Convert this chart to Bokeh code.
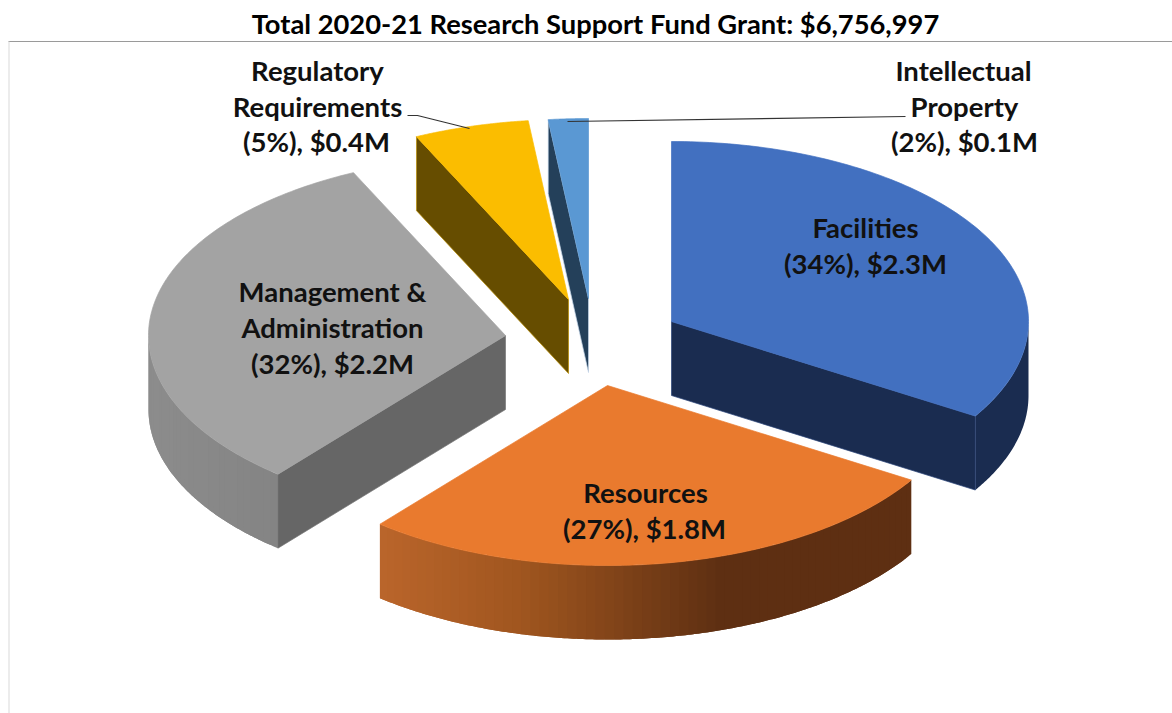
import numpy as np
from bokeh.plotting import figure
from bokeh.models import Range1d
from bokeh.core.properties import value
from bokeh.embed import file_html
from bokeh.resources import INLINE

# ---- data ----
title_text = "Total 2020-21 Research Support Fund Grant: $6,756,997"
categories = ["Facilities", "Resources", "Management & Administration", "Regulatory Requirements", "Intellectual Property"]
shares = [33.8, 27.2, 32.0, 5.2, 1.8]
pct_labels = ["34%", "27%", "32%", "5%", "2%"]
dollar_labels = ["$2.3M", "$1.8M", "$2.2M", "$0.4M", "$0.1M"]

# ---- styling and layout ----
top_colors = ["#4270c0", "#e97a2e", "#a3a3a3", "#fbbd00", "#5a98d3"]
face_colors = ["#1a2c50", "#5e2f12", "#666666", "#664d00", "#24405a"]
edge_colors = ["#2a4478", "#5e2f12", "#777777", "#b88c00", "#c4d6e8"]
wall_stops = [
    [(0, "#1a2c50"), (1, "#1a2c50")],
    [(380, "#ba652b"), (520, "#a0561f"), (720, "#5e2f12"), (910, "#5e2f12")],
    [(150, "#8c8c8c"), (276, "#848484")],
    [(0, "#664d00"), (1, "#664d00")],
    [(0, "#24405a"), (1, "#24405a")],
]
apex_x = [671, 607, 505, 568, 588]
apex_y = [321, 385, 335, 299, 298]
cut_edge = ["end", None, "start", "start", "start"]
RX, RY, DEPTH = 357, 180, 74
draw_order = [4, 3, 0, 2, 1]


def hex_rgb(c):
    return np.array([int(c[i:i + 2], 16) for i in (1, 3, 5)], float)


def grad(stops, x):
    xs = [s[0] for s in stops]
    cols = np.array([hex_rgb(s[1]) for s in stops])
    rgb = [np.interp(x, xs, cols[:, k]) for k in range(3)]
    return "#%02x%02x%02x" % tuple(int(round(v)) for v in rgb)


def rim(i, t):
    a = np.radians(t)
    return apex_x[i] + RX * np.sin(a), apex_y[i] - RY * np.cos(a)


def wall_patch(i, ta, tb, color):
    ts = np.linspace(ta, tb, max(2, int((tb - ta) * 2) + 1))
    xs, ys = rim(i, ts)
    p.patch(np.r_[xs, xs[::-1]], np.r_[ys, ys[::-1] + DEPTH],
            fill_color=color, line_color=None)


p = figure(width=1172, height=713, output_backend="svg", toolbar_location=None,
           x_range=Range1d(0, 1172), y_range=Range1d(713, 0),
           min_border=0, outline_line_color=None)
p.xaxis.visible = False
p.yaxis.visible = False
p.grid.visible = False
p.background_fill_color = "white"

# frame rules under the title and down the left side
p.line([8, 1172], [41, 41], line_color="#9a9a9a", line_width=1.2)
p.line([8.5, 8.5], [41, 713], line_color="#d9d9d9", line_width=1)

ends = np.cumsum(shares) / np.sum(shares) * 360
starts = np.concatenate([[0], ends[:-1]])

for i in draw_order:
    t0, t1 = starts[i], ends[i]
    # outer wall: overlapping strips, so that it can carry a gradient without seams
    w0, w1 = max(t0, 90), min(t1, 270)
    if w1 > w0:
        if wall_stops[i][0][1] == wall_stops[i][-1][1]:
            wall_patch(i, w0, w1, wall_stops[i][0][1])
        else:
            n = max(2, int((w1 - w0) / 1.5))
            ts = np.linspace(w0, w1, n + 1)
            for k in range(n):
                a, b = ts[k], ts[min(k + 2, n)]
                xm = rim(i, (ts[k] + ts[k + 1]) / 2)[0]
                wall_patch(i, a, b, grad(wall_stops[i], xm))
    # cut face
    if cut_edge[i]:
        t = t0 if cut_edge[i] == "start" else t1
        xr, yr = rim(i, t)
        p.patch([apex_x[i], xr, xr, apex_x[i]],
                [apex_y[i], yr, yr + DEPTH, apex_y[i] + DEPTH],
                fill_color=face_colors[i], line_color=edge_colors[i], line_width=0.7)
    # top face
    ts = np.linspace(t0, t1, 120)
    xs, ys = rim(i, ts)
    p.patch(np.r_[apex_x[i], xs], np.r_[apex_y[i], ys],
            fill_color=top_colors[i], line_color=top_colors[i], line_width=0.7)

# leader lines
p.line([407, 417, 469], [115, 115, 128], line_color="#333333", line_width=1.2)
p.line([567, 905], [121, 116], line_color="#333333", line_width=1.2)

FONT = value("Lato")


def put(x, y, s, size="27.5px", weight="bold", color="#111111"):
    p.text([x], [y], text=[s], text_font=FONT, text_font_size=size, text_font_style=weight,
           text_align="center", text_baseline="middle", text_color=color)


put(595, 23, title_text, size="27.3px", color="#000000")


def pct(i):
    return f"({pct_labels[i]}), {dollar_labels[i]}"


put(865, 227, categories[0])
put(865, 263, pct(0))
put(645, 492, categories[1])
put(644, 528, pct(1))
a, b = categories[2].split(" & ")
put(332, 291, a + " &")
put(332, 327, b)
put(332, 363, pct(2))
a, b = categories[3].split(" ")
put(317, 70, a)
put(317, 106, b)
put(316, 141, pct(3))
a, b = categories[4].split(" ")
put(963, 70, a)
put(964, 106, b)
put(964, 141, pct(4))

open("out.html", "w").write(file_html(p, INLINE))
